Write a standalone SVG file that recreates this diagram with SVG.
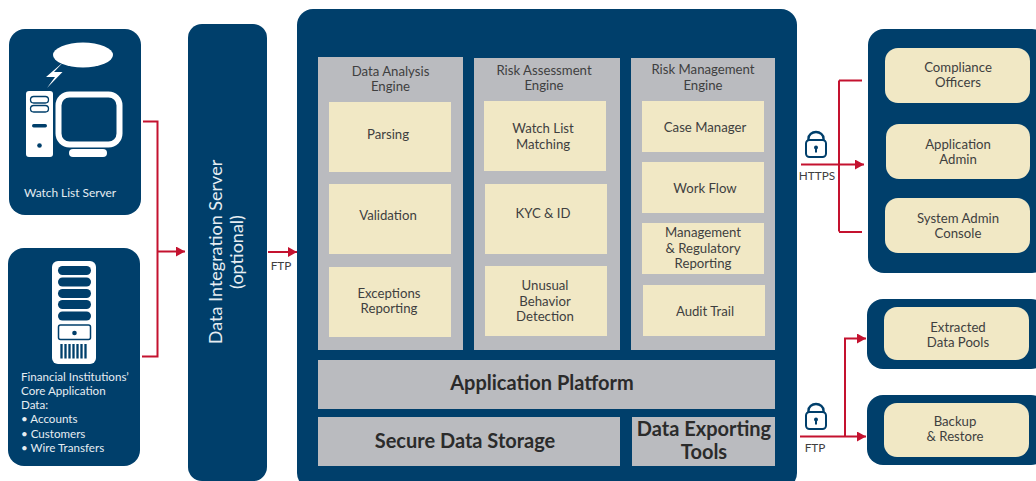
<svg xmlns="http://www.w3.org/2000/svg" width="1036" height="481" viewBox="0 0 1036 481">
<style>
text{font-family:"Lato","Noto Sans",sans-serif;text-anchor:middle}
.n{fill:#003f6b}.g{fill:#babbbf}.c{fill:#f1e8c5}
.t{font-size:13.200px;fill:#3f3f3f}
.tb{font-size:20px;font-weight:700;fill:#2b2b2b}
.w{font-size:11.600px;fill:#e6edf2;text-anchor:start}
.l{font-size:11.800px;fill:#404040}
.r{fill:none;stroke:#c4122f;stroke-width:2}
.ico{fill:#fff}
.lk{fill:none;stroke:#003f6b;stroke-width:2.400}
</style>
<defs><marker id="a" markerUnits="userSpaceOnUse" markerWidth="9" markerHeight="10" refX="9" refY="5" orient="auto"><path d="M0 0L9 5L0 10Z" fill="#c4122f"/></marker>
<g id="lock"><path class="lk" d="M-7.500 -6V-7.500a7.500 6.500 0 0 1 15 0V-6"/><rect x="-10" y="-6" width="20" height="17" rx="3.500" fill="#fff" stroke="#003f6b" stroke-width="2"/><circle cy="1.500" r="2" fill="#003f6b"/><rect x="-1" y="1.500" width="2" height="5" fill="#003f6b"/></g></defs>
<g id="connectors">
<path class="r" d="M143 121.500H157.500V356.500H142"/><path class="r" d="M157.500 251.500H185" marker-end="url(#a)"/>
<path class="r" d="M268 252H297" marker-end="url(#a)"/>
<path class="r" d="M839 80.500V231.500M862 80.500H839M862 232H839"/><path class="r" d="M801 164.500H864" marker-end="url(#a)"/>
<path class="r" d="M800 436.500H866" marker-end="url(#a)"/><path class="r" d="M845 436.500V338.500H866" marker-end="url(#a)"/>
</g>
<g id="watch-list-server"><rect class="n" x="9" y="29" width="132" height="186" rx="16"/>
<ellipse class="ico" cx="83" cy="55" rx="30" ry="12.500"/>
<path class="ico" d="M61 64L46 77H55L47 88L62.500 72H54L61.500 64Z"/>
<rect class="ico" x="26" y="91" width="27" height="66" rx="3"/>
<g fill="none" stroke="#003f6b" stroke-width="1.300"><rect x="30.500" y="96.500" width="18" height="6.500" rx="3.200"/><rect x="30.500" y="105.500" width="18" height="6.500" rx="3.200"/></g>
<rect class="n" x="32" y="124" width="15" height="3.500" rx="1.700"/><circle class="n" cx="39.500" cy="145.500" r="2.300"/>
<rect x="58.500" y="94.500" width="61" height="50" rx="11" fill="#003f6b" stroke="#fff" stroke-width="6"/>
<rect class="ico" x="69" y="149" width="38" height="8" rx="4"/>
<text class="w" x="24" y="197" style="font-size:11.900px">Watch List Server</text></g>
<g id="core-data"><rect class="n" x="8" y="248" width="132" height="218" rx="16"/>
<rect class="ico" x="52" y="261" width="44" height="103" rx="6"/>
<g class="n"><rect x="58" y="266" width="33" height="9" rx="4.500"/><rect x="58" y="277.500" width="33" height="9" rx="4.500"/><rect x="58" y="289" width="33" height="9" rx="4.500"/><rect x="58" y="300" width="33" height="9" rx="4.500"/><rect x="58" y="311.500" width="33" height="9" rx="4.500"/></g>
<rect x="58.500" y="325" width="32" height="14.500" rx="2" fill="none" stroke="#003f6b" stroke-width="1.500"/><circle class="n" cx="74.500" cy="333" r="2.300"/>
<path d="M61.500 344V358.500M65.500 344V358.500M69.500 344V358.500M73.500 344V358.500M77.500 344V358.500M81.500 344V358.500M85.500 344V358.500" stroke="#003f6b" stroke-width="2.300"/>
<text class="w" x="21" y="381">Financial Institutions’</text><text class="w" x="21" y="395">Core Application</text><text class="w" x="21" y="409">Data:</text>
<text class="w" x="21" y="423">• Accounts</text><text class="w" x="21" y="438">• Customers</text><text class="w" x="21" y="452">• Wire Transfers</text></g>
<g id="integration-server"><rect class="n" x="188" y="24" width="79" height="457" rx="14"/>
<text transform="translate(222 252) rotate(-90)" font-size="18" fill="#e6edf2">Data Integration Server</text><text transform="translate(243 252) rotate(-90)" font-size="18" fill="#e6edf2">(optional)</text></g>
<text class="l" x="281" y="270">FTP</text>
<g id="platform"><rect class="n" x="297" y="9" width="500" height="480" rx="16"/>
<rect class="g" x="318" y="57" width="145" height="293"/><rect class="g" x="474" y="58" width="146" height="292"/><rect class="g" x="631" y="58" width="144" height="292"/>
<text class="t" x="390.500" y="76">Data Analysis</text><text class="t" x="390.500" y="91">Engine</text>
<text class="t" x="544" y="75">Risk Assessment</text><text class="t" x="544" y="90">Engine</text>
<text class="t" x="703" y="74">Risk Management</text><text class="t" x="703" y="90">Engine</text>
<g id="parsing"><rect class="c" x="329" y="102" width="122" height="70"/><text class="t" x="388" y="139">Parsing</text></g>
<g id="validation"><rect class="c" x="329" y="184" width="122" height="70"/><text class="t" x="388" y="220">Validation</text></g>
<g id="exceptions"><rect class="c" x="329" y="267" width="122" height="70"/><text class="t" x="389" y="298">Exceptions</text><text class="t" x="389" y="313">Reporting</text></g>
<g id="watch-list"><rect class="c" x="484" y="101" width="122" height="70"/><text class="t" x="543" y="133">Watch List</text><text class="t" x="543" y="149">Matching</text></g>
<g id="kyc"><rect class="c" x="485" y="184" width="122" height="70"/><text class="t" x="543" y="218">KYC &amp; ID</text></g>
<g id="unusual"><rect class="c" x="485" y="266" width="122" height="70"/><text class="t" x="545" y="290">Unusual</text><text class="t" x="545" y="306">Behavior</text><text class="t" x="545" y="321">Detection</text></g>
<g id="case"><rect class="c" x="642" y="101" width="122" height="51"/><text class="t" x="705" y="132">Case Manager</text></g>
<g id="workflow"><rect class="c" x="642" y="162" width="122" height="51"/><text class="t" x="705" y="193">Work Flow</text></g>
<g id="regulatory"><rect class="c" x="642" y="223" width="122" height="51"/><text class="t" x="703" y="237">Management</text><text class="t" x="703" y="253">&amp; Regulatory</text><text class="t" x="703" y="268">Reporting</text></g>
<g id="audit"><rect class="c" x="643" y="285" width="122" height="51"/><text class="t" x="705" y="316">Audit Trail</text></g>
<g id="app-platform"><rect class="g" x="318" y="360" width="457" height="49"/><text class="tb" x="542" y="390">Application Platform</text></g>
<g id="storage"><rect class="g" x="318" y="417" width="302" height="49"/><text class="tb" x="465" y="448">Secure Data Storage</text></g>
<g id="export"><rect class="g" x="632" y="417" width="143" height="49"/><text class="tb" x="704" y="436">Data Exporting</text><text class="tb" x="704" y="459">Tools</text></g>
</g>
<use href="#lock" x="816" y="146"/><text class="l" x="817" y="180">HTTPS</text>
<use href="#lock" x="816" y="418"/><text class="l" x="815" y="452">FTP</text>
<g id="users"><rect class="n" x="868" y="29" width="180" height="244" rx="16"/>
<g id="compliance"><rect class="c" x="885" y="48" width="145" height="55" rx="13"/><text class="t" x="958" y="72">Compliance</text><text class="t" x="958" y="87">Officers</text></g>
<g id="app-admin"><rect class="c" x="886" y="124" width="144" height="55" rx="13"/><text class="t" x="958" y="149">Application</text><text class="t" x="958" y="164">Admin</text></g>
<g id="console"><rect class="c" x="885" y="198" width="145" height="55" rx="13"/><text class="t" x="958" y="223">System Admin</text><text class="t" x="958" y="238">Console</text></g></g>
<g id="pools"><rect class="n" x="867" y="299" width="180" height="70" rx="16"/><rect class="c" x="884" y="307" width="145" height="53" rx="13"/><text class="t" x="958" y="332">Extracted</text><text class="t" x="958" y="347">Data Pools</text></g>
<g id="backup"><rect class="n" x="867" y="395" width="180" height="70" rx="16"/><rect class="c" x="884" y="403" width="145" height="54" rx="13"/><text class="t" x="955" y="426">Backup</text><text class="t" x="955" y="441">&amp; Restore</text></g>
</svg>
